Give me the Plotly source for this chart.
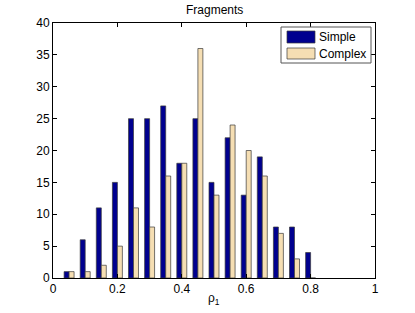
import plotly.graph_objects as go

bin_centers = [0.05, 0.10, 0.15, 0.20, 0.25, 0.30, 0.35, 0.40, 0.45, 0.50, 0.55, 0.60, 0.65, 0.70, 0.75, 0.80]
simple = [1, 6, 11, 15, 25, 25, 27, 18, 25, 15, 22, 13, 19, 8, 8, 4]
complex_ = [1, 1, 2, 5, 11, 8, 16, 18, 36, 13, 24, 20, 16, 7, 3, 0]
series_names = ["Simple", "Complex"]
colors = ["#00008f", "#f5deb3"]

W, H = 415, 313
L, R, T, B = 53, 40, 23, 35
pw, ph = W - L - R, H - T - B

def px(x):
    # screen x -> paper
    return (x - L) / pw

def py(y):
    # screen y -> paper
    return (H - B - y) / ph

fig = go.Figure()
for name, vals, c in zip(series_names, [simple, complex_], colors):
    fig.add_trace(go.Bar(x=bin_centers, y=vals, name=name,
                         marker=dict(color=c, line=dict(color="#3a3a3a", width=0.7)),
                         showlegend=False))

font = dict(family="Liberation Sans, Arial, sans-serif", size=12, color="black")

shapes = [
    dict(type="rect", xref="paper", yref="paper", x0=px(281), x1=px(371), y0=py(63), y1=py(27),
         line=dict(color="#555555", width=1), fillcolor="white", layer="above"),
    dict(type="rect", xref="paper", yref="paper", x0=px(287), x1=px(315), y0=py(43), y1=py(31),
         line=dict(color="#3a3a3a", width=0.7), fillcolor=colors[0], layer="above"),
    dict(type="rect", xref="paper", yref="paper", x0=px(287), x1=px(315), y0=py(59), y1=py(48),
         line=dict(color="#3a3a3a", width=0.7), fillcolor=colors[1], layer="above"),
]
annotations = [
    dict(xref="paper", yref="paper", x=px(317), y=py(37), text=series_names[0], showarrow=False,
         xanchor="left", yanchor="middle", font=font),
    dict(xref="paper", yref="paper", x=px(317), y=py(53.5), text=series_names[1], showarrow=False,
         xanchor="left", yanchor="middle", font=font),
    dict(xref="paper", yref="paper", x=px(214), y=py(10), text="Fragments", showarrow=False,
         xanchor="center", yanchor="middle", font=font),
    dict(xref="paper", yref="paper", x=px(214), y=py(299), text="ρ<sub>1</sub>", showarrow=False,
         xanchor="center", yanchor="middle", font=font),
]

fig.update_layout(
    width=W, height=H,
    margin=dict(l=L, r=R, t=T, b=B, autoexpand=False),
    paper_bgcolor="white", plot_bgcolor="white",
    barmode="group", bargap=0.38, bargroupgap=0,
    font=font,
    shapes=shapes, annotations=annotations,
)
fig.update_xaxes(range=[0, 1], tickmode="array", tickvals=[0, 0.2, 0.4, 0.6, 0.8, 1],
                 ticktext=["0", "0.2", "0.4", "0.6", "0.8", "1"],
                 ticks="inside", ticklen=4, tickcolor="black", showline=True, linecolor="black", linewidth=1,
                 mirror="ticks", showgrid=False, zeroline=False, automargin=False)
fig.update_yaxes(range=[0, 40], tickmode="linear", tick0=0, dtick=5,
                 ticks="inside", ticklen=4, tickcolor="black", showline=True, linecolor="black", linewidth=1,
                 mirror="ticks", showgrid=False, zeroline=False, automargin=False)

fig.write_html("out.html", config={"displayModeBar": False},
               post_script="document.body.style.margin='0';document.body.style.padding='0';")
